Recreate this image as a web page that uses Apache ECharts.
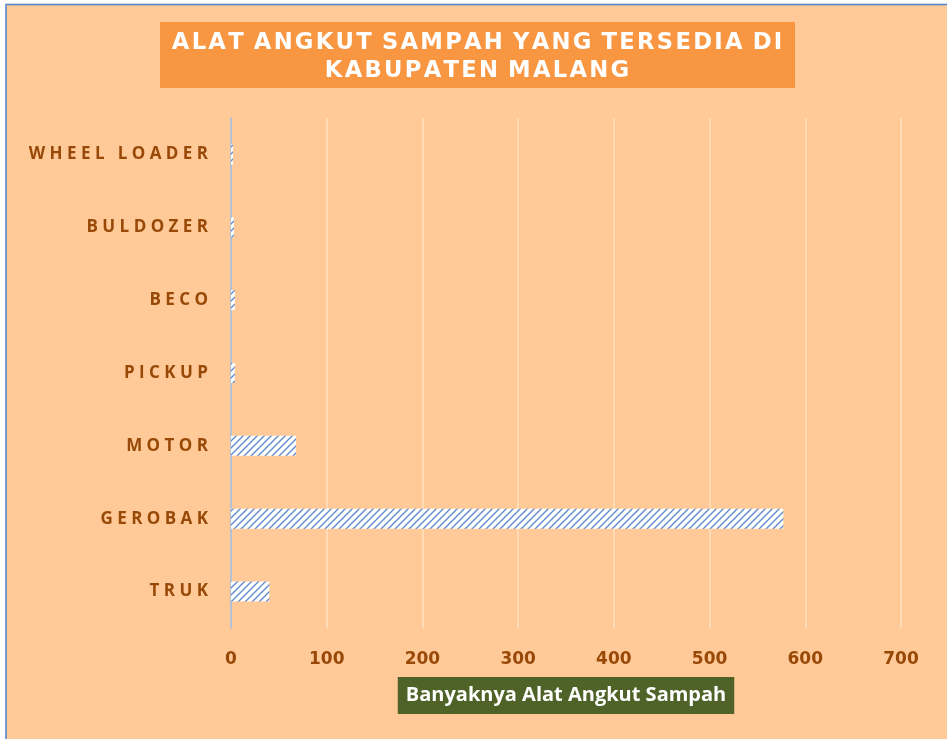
<!DOCTYPE html>
<html>
<head>
<meta charset="utf-8">
<title>Alat Angkut Sampah</title>
<script src="https://cdn.jsdelivr.net/npm/echarts@6/dist/echarts.min.js"></script>
<style>
  html, body { margin: 0; padding: 0; background: #ffffff; }
  #chart { width: 947px; height: 739px; }
</style>
</head>
<body>
<div id="chart"></div>
<script>
// data
const categories = ['TRUK', 'GEROBAK', 'MOTOR', 'PICKUP', 'BECO', 'BULDOZER', 'WHEEL LOADER'];
const jumlah = [40, 577, 68, 4, 4, 3, 2];
const xTicks = [0, 100, 200, 300, 400, 500, 600, 700];

const titleLines = ['ALAT ANGKUT SAMPAH YANG TERSEDIA DI', 'KABUPATEN MALANG'];
const axisTitle = 'Banyaknya Alat Angkut Sampah';

// spread the letters out like the Excel label (character spacing)
function spaced(str, sep, wordSep) {
  return str.split(' ').map(w => w.split('').join(sep)).join(wordSep);
}

// hatched "wide upward diagonal" fill
function hatchPattern() {
  const s = 7;
  const c = document.createElement('canvas');
  c.width = s;
  c.height = s;
  const ctx = c.getContext('2d');
  ctx.fillStyle = '#ffffff';
  ctx.fillRect(0, 0, s, s);
  ctx.strokeStyle = '#5a88cc';
  ctx.lineWidth = 1.3;
  ctx.beginPath();
  ctx.moveTo(0, s);
  ctx.lineTo(s, 0);
  ctx.moveTo(-1, 1);
  ctx.lineTo(1, -1);
  ctx.moveTo(s - 1, s + 1);
  ctx.lineTo(s + 1, s - 1);
  ctx.stroke();
  return c;
}

const myChart = echarts.init(document.getElementById('chart'));

const option = {
  backgroundColor: '#ffffff',
  animation: false,
  graphic: [
    {
      type: 'rect',
      z: -10,
      shape: { x: 6, y: 4.5, width: 1000, height: 1000 },
      style: { fill: '#ffca97', stroke: '#4f81c8', lineWidth: 1.5 },
      silent: true
    },
    {
      type: 'rect',
      shape: { x: 160, y: 22, width: 635, height: 66 },
      style: { fill: '#f99642' },
      silent: true
    },
    {
      type: 'text',
      x: 477,
      y: 57,
      style: {
        text: titleLines.map(t => spaced(t, '\u200A', ' \u200A')).join('\n'),
        fill: '#ffffff',
        fontFamily: 'DejaVu Sans',
        fontWeight: 'bold',
        fontSize: 22.7,
        lineHeight: 28,
        align: 'center',
        verticalAlign: 'middle'
      },
      silent: true
    }
  ],
  grid: {
    left: 231,
    right: 46,
    top: 118,
    bottom: 111
  },
  xAxis: {
    type: 'value',
    min: 0,
    max: 700,
    interval: 100,
    name: axisTitle,
    nameLocation: 'middle',
    nameGap: 49,
    nameTextStyle: {
      color: '#ffffff',
      fontFamily: 'Open Sans',
      fontWeight: 'bold',
      fontSize: 20,
      backgroundColor: '#4f6228',
      padding: [8, 8, 9, 8]
    },
    axisLine: { show: false },
    axisTick: { show: false },
    axisLabel: {
      margin: 23,
      color: '#984807',
      fontFamily: 'DejaVu Sans',
      fontWeight: 'bold',
      fontSize: 17,
      formatter: v => (xTicks.includes(v) ? String(v) : '')
    },
    splitLine: { show: true, lineStyle: { color: '#ffdbb6', width: 2 } }
  },
  yAxis: {
    type: 'category',
    data: categories,
    axisLine: { show: true, lineStyle: { color: '#9fb8de', width: 1.5 } },
    axisTick: { show: false },
    axisLabel: {
      margin: 23,
      color: '#984807',
      fontFamily: 'Open Sans',
      fontWeight: 'bold',
      fontSize: 17,
      formatter: v => spaced(v, ' ', '   ')
    },
    splitLine: { show: false }
  },
  series: [
    {
      name: axisTitle,
      type: 'bar',
      data: jumlah,
      barWidth: 20,
      itemStyle: {
        color: { image: hatchPattern(), repeat: 'repeat' }
      }
    }
  ]
};

myChart.setOption(option);
</script>
</body>
</html>
